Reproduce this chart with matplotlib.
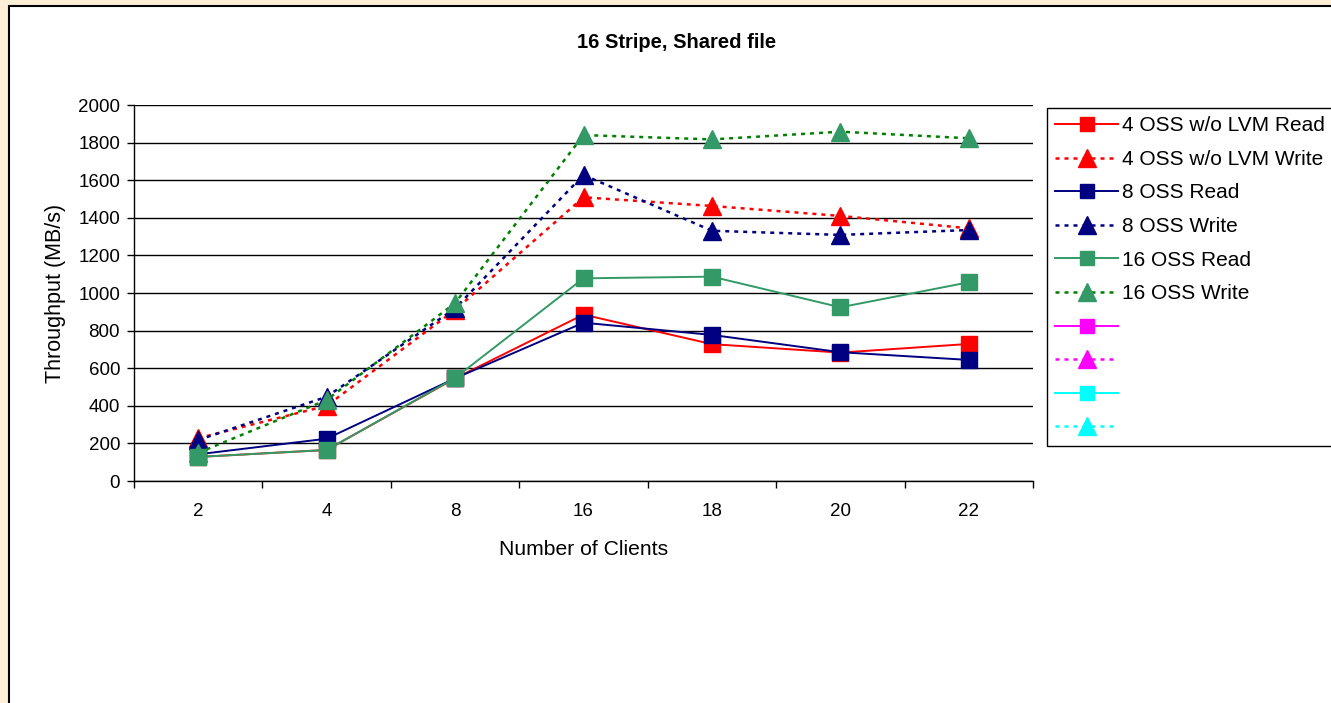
import matplotlib.pyplot as plt
from matplotlib.lines import Line2D
from matplotlib.patches import Rectangle

clients = ['2', '4', '8', '16', '18', '20', '22']

read_4oss = [128, 165, 546, 885, 728, 683, 729]
write_4oss = [228, 400, 910, 1509, 1463, 1410, 1344]
read_8oss = [142, 225, 546, 842, 777, 685, 644]
write_8oss = [218, 448, 918, 1628, 1331, 1309, 1335]
read_16oss = [128, 165, 548, 1078, 1087, 924, 1057]
write_16oss = [150, 431, 946, 1840, 1817, 1858, 1823]

labels = ['4 OSS w/o LVM Read', '4 OSS w/o LVM Write', '8 OSS Read',
          '8 OSS Write', '16 OSS Read', '16 OSS Write', '', '', '', '']

plt.rcParams['font.family'] = ['Liberation Sans', 'DejaVu Sans']

W, H = 1331, 703
fig = plt.figure(figsize=(W / 100, H / 100), dpi=100, facecolor='#fcefd6')

# white chart area with black border
fig.patches.append(Rectangle((9 / W, -0.1), 1.2, (H - 6) / H + 0.1,
                             transform=fig.transFigure, facecolor='white',
                             edgecolor='black', linewidth=1.5, zorder=-5))

ax = fig.add_axes([134 / W, (H - 481) / H, (1033 - 134) / W, (481 - 105) / H])
ax.set_zorder(2)
ax.set_facecolor('white')

x = list(range(len(clients)))
dot = (0, (1.6, 2))

series = [
    (read_4oss, '#ff0000', '-', 's', '#ff0000'),
    (write_4oss, '#ff0000', dot, '^', '#ff0000'),
    (read_8oss, '#000080', '-', 's', '#000080'),
    (write_8oss, '#000080', dot, '^', '#000080'),
    (read_16oss, '#339966', '-', 's', '#339966'),
    (write_16oss, '#008000', dot, '^', '#339966'),
]

handles = []
for vals, col, ls, mk, mcol in series:
    ax.plot(x, vals, color=col, linestyle=ls, linewidth=1.4 if ls == '-' else 1.8,
            marker=mk, markersize=11 if mk == 's' else 13.5,
            markerfacecolor=mcol, markeredgecolor=mcol, zorder=3)
    handles.append(Line2D([], [], color=col, linestyle=ls,
                          linewidth=1.4 if ls == '-' else 1.8, marker=mk,
                          markersize=10 if mk == 's' else 12.5,
                          markerfacecolor=mcol, markeredgecolor=mcol))

# empty legend entries
for col in ['#ff00ff', '#00ffff']:
    handles.append(Line2D([], [], color=col, linestyle='-', linewidth=1.4,
                          marker='s', markersize=10, markerfacecolor=col,
                          markeredgecolor=col))
    handles.append(Line2D([], [], color=col, linestyle=dot, linewidth=1.8,
                          marker='^', markersize=12.5, markerfacecolor=col,
                          markeredgecolor=col))

ax.set_xlim(-0.5, len(clients) - 0.5)
ax.set_ylim(0, 2000)
ax.set_yticks(range(0, 2001, 200))
ax.set_xticks(x)
ax.set_xticklabels(clients)
ax.set_xticks([i + 0.5 for i in range(-1, len(clients))], minor=True)
ax.tick_params(axis='x', which='major', length=0, pad=16, labelsize=13.5)
ax.tick_params(axis='x', which='minor', length=5, width=1, color='black')
ax.tick_params(axis='y', length=5, width=1, labelsize=13.5, pad=5)
ax.grid(axis='y', color='black', linewidth=1)
ax.set_axisbelow(True)
for s in ['top', 'right']:
    ax.spines[s].set_visible(False)
for s in ['left', 'bottom']:
    ax.spines[s].set_linewidth(1)

ax.set_xlabel('Number of Clients', fontsize=15.2, labelpad=14)
ax.set_ylabel('Throughput (MB/s)', fontsize=15.5, labelpad=9)
fig.text(677 / W, 1 - 42 / H, '16 Stripe, Shared file', ha='center',
         va='center', fontsize=14.5, fontweight='bold')

leg = fig.legend(handles, labels, loc='upper left',
                 bbox_to_anchor=(1047 / W, 1 - 108 / H),
                 fontsize=15, handlelength=3.0, labelspacing=0.7,
                 handletextpad=0.2, borderpad=0.4, borderaxespad=0,
                 fancybox=False, frameon=True, framealpha=1)
leg.get_frame().set_edgecolor('black')
leg.get_frame().set_linewidth(1)

fig.savefig('out.png', dpi=100, facecolor=fig.get_facecolor())
